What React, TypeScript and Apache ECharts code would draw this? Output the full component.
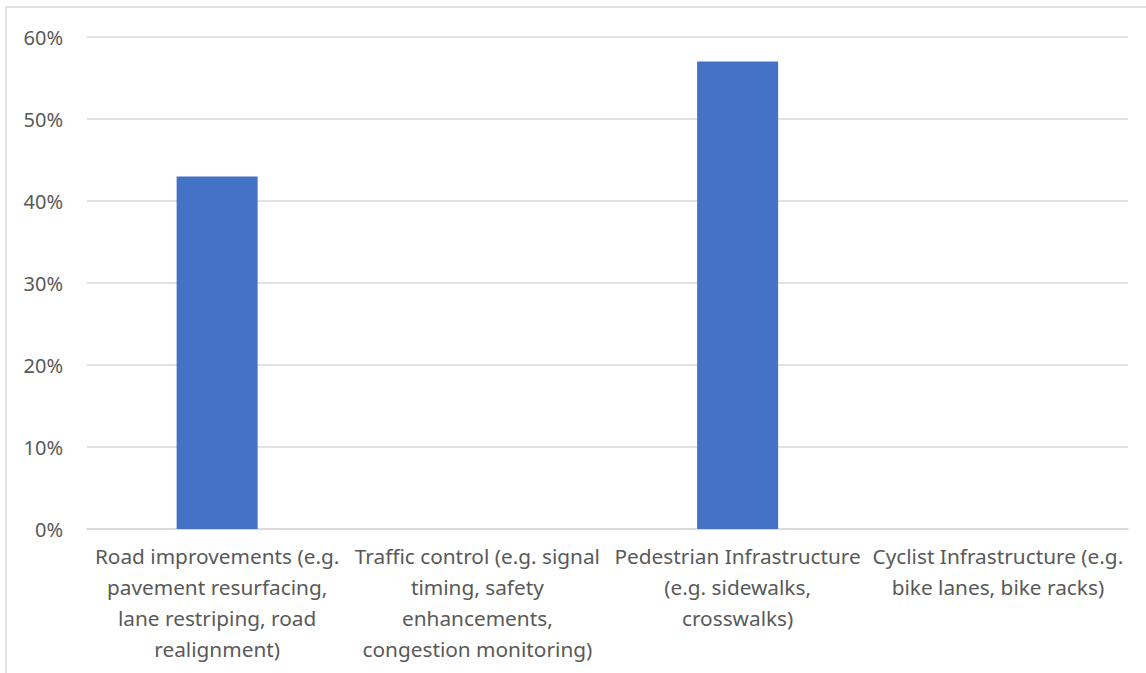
import React, { useEffect, useRef } from "react";
import * as echarts from "echarts";

const categories = [
  "Road improvements (e.g.\npavement resurfacing,\nlane restriping, road\nrealignment)",
  "Traffic control (e.g. signal\ntiming, safety\nenhancements,\ncongestion monitoring)",
  "Pedestrian Infrastructure\n(e.g. sidewalks,\ncrosswalks)",
  "Cyclist Infrastructure (e.g.\nbike lanes, bike racks)",
];
const values = [0.43, 0, 0.57, 0];
const yTicks = { min: 0, max: 0.6, interval: 0.1 };

export default function App() {
  const ref = useRef<HTMLDivElement>(null);
  useEffect(() => {
    const chart = echarts.init(ref.current!, null, { renderer: "svg" });
    chart.setOption({
      animation: false,
      backgroundColor: "#ffffff",
      textStyle: { fontFamily: "Noto Sans" },
      graphic: [
        {
          type: "rect",
          shape: { x: 6, y: 7, width: 1200, height: 700 },
          style: { fill: "none", stroke: "#d9d9d9", lineWidth: 1.5 },
          silent: true,
        },
      ],
      grid: { left: 87, right: 18, top: 37, bottom: 144, containLabel: false },
      xAxis: {
        type: "category",
        data: categories,
        axisTick: { show: false },
        axisLine: { lineStyle: { color: "#d9d9d9", width: 1.5 } },
        axisLabel: {
          color: "#595959",
          fontSize: 20.8,
          lineHeight: 31,
          margin: 11,
          interval: 0,
          align: "center",
        },
      },
      yAxis: {
        type: "value",
        min: yTicks.min,
        max: yTicks.max,
        interval: yTicks.interval,
        axisLine: { show: false },
        axisTick: { show: false },
        splitLine: { lineStyle: { color: "#d9d9d9", width: 1.5 } },
        axisLabel: {
          color: "#595959",
          fontSize: 20,
          margin: 24,
          formatter: (v: number) => `${Math.round(v * 100)}%`,
        },
      },
      series: [
        {
          type: "bar",
          data: values,
          barWidth: 81,
          itemStyle: { color: "#4472C4" },
        },
      ],
    });
    return () => chart.dispose();
  }, []);
  return (
    <div
      ref={ref}
      style={{ position: "absolute", left: 0, top: 0, width: 1146, height: 673 }}
    />
  );
}
